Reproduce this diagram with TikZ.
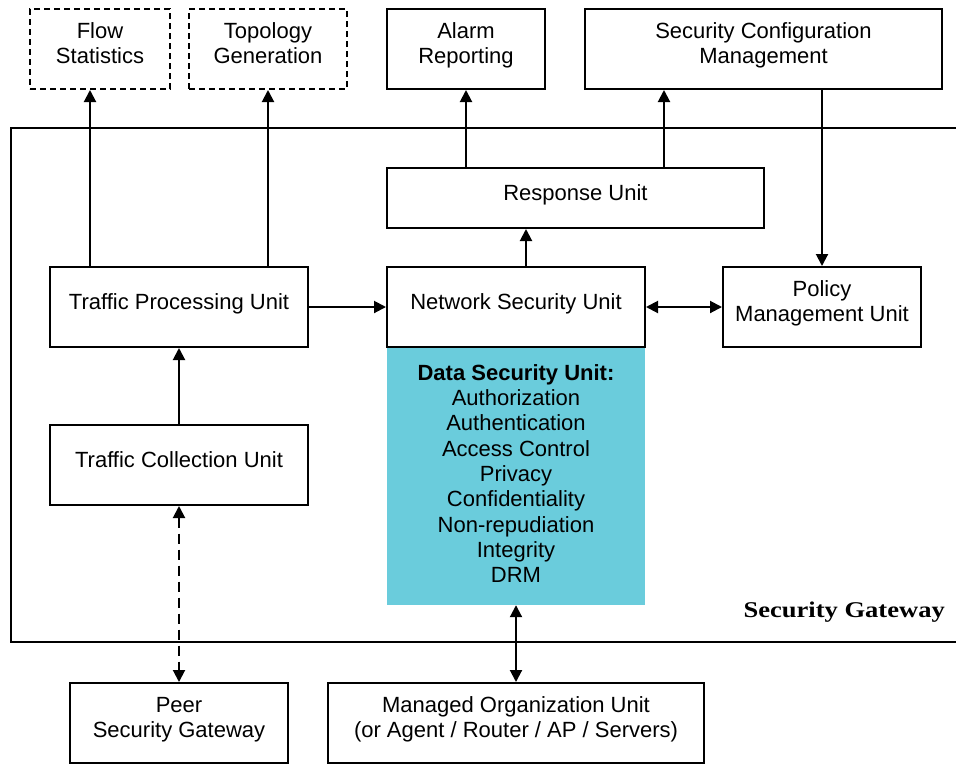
\documentclass[tikz,border=0pt]{standalone}
\usepackage{fontspec}
\setmainfont{Liberation Sans}
\newfontfamily\sgfont{Liberation Serif}[FakeStretch=1.18]
\usetikzlibrary{arrows.meta}
\definecolor{dsucyan}{RGB}{106,204,220}
\newcommand\lnst{\rule[-5pt]{0pt}{21pt}}
\begin{document}
\begin{tikzpicture}[x=1pt,y=-1pt,
  font=\fontsize{22}{25.3}\selectfont,
  box/.style={draw, line width=2pt, inner sep=0pt, fill=white},
  dbox/.style={box, dash pattern=on 6pt off 4pt},
  lab/.style={align=center, yshift=3.5pt, inner sep=0pt},
  arr/.style={line width=2pt, -{Triangle[length=12pt,width=12pt]}},
  darr/.style={line width=2pt, {Triangle[length=12pt,width=12pt]}-{Triangle[length=12pt,width=12pt]}},
  darrdash/.style={darr, dash pattern=on 10pt off 6pt},
]
\useasboundingbox (0,0) rectangle (956,764);

% Security gateway enclosure
\draw[line width=2pt] (960,128) -- (11,128) -- (11,642) -- (960,642);
\node[anchor=base east, inner sep=0pt, font=\sgfont\bfseries\fontsize{22.5}{26}\selectfont] (sg) at (945,617) {Security Gateway};

% top row
\node[dbox, minimum width=140pt, minimum height=80pt, label={[lab]center:{\lnst Flow\\\lnst Statistics}}] (fs) at (100,49) {};
\node[dbox, minimum width=158pt, minimum height=80pt, label={[lab]center:{\lnst Topology\\\lnst Generation}}] (tg) at (268,49) {};
\node[box, minimum width=158pt, minimum height=80pt, label={[lab]center:{\lnst Alarm\\\lnst Reporting}}] (ar) at (466,49) {};
\node[box, minimum width=357pt, minimum height=80pt, label={[lab]center:{\lnst Security Configuration\\\lnst Management}}] (scm) at (763.5,49) {};

% inside
\node[box, minimum width=377pt, minimum height=60pt, label={[lab]center:{\lnst Response Unit}}] (rsp) at (575.5,198) {};
\node[box, minimum width=258pt, minimum height=80pt, label={[lab]center:{\lnst Traffic Processing Unit}}] (tpu) at (179,307) {};
\node[fill=dsucyan, minimum width=258pt, minimum height=258pt, inner sep=0pt, align=center] (dsu) at (516,476)
  {\lnst\textbf{Data Security Unit:}\\\lnst Authorization\\\lnst Authentication\\\lnst Access Control\\\lnst Privacy\\\lnst Confidentiality\\\lnst Non-repudiation\\\lnst Integrity\\\lnst DRM};
\node[box, minimum width=258pt, minimum height=80pt, label={[lab]center:{\lnst Network Security Unit}}] (nsu) at (516,307) {};
\node[box, minimum width=198pt, minimum height=80pt, label={[lab]center:{\lnst Policy\\\lnst Management Unit}}] (pmu) at (822,307) {};
\node[box, minimum width=258pt, minimum height=80pt, label={[lab]center:{\lnst Traffic Collection Unit}}] (tcu) at (179,465) {};

% bottom
\node[box, minimum width=218pt, minimum height=80pt, label={[lab]center:{\lnst Peer\\\lnst Security Gateway}}] (psg) at (179,723) {};
\node[box, minimum width=376pt, minimum height=80pt, label={[lab]center:{\lnst Managed Organization Unit\\\lnst (or Agent / Router / AP / Servers)}}] (mou) at (516,723) {};

% connectors
\draw[arr] ([xshift=-10pt]fs.south |- tpu.north) -- ([xshift=-10pt]fs.south);
\draw[arr] (tg.south |- tpu.north) -- (tg.south);
\draw[arr] (ar.south |- rsp.north) -- (ar.south);
\draw[arr] ([xshift=-99.5pt]scm.south |- rsp.north) -- ([xshift=-99.5pt]scm.south);
\draw[arr] (scm.south -| pmu.north) -- (pmu.north);
\draw[arr] ([xshift=10pt]nsu.north) -- ([xshift=10pt]nsu.north |- rsp.south);
\draw[arr] (tpu.east) -- (tpu.east -| nsu.west);
\draw[darr] (nsu.east) -- (pmu.west);
\draw[arr] (tcu.north) -- (tpu.south);
\draw[darrdash] (tcu.south) -- (tcu.south |- psg.north);
\draw[darr] (dsu.south) -- (mou.north);
\end{tikzpicture}
\end{document}
